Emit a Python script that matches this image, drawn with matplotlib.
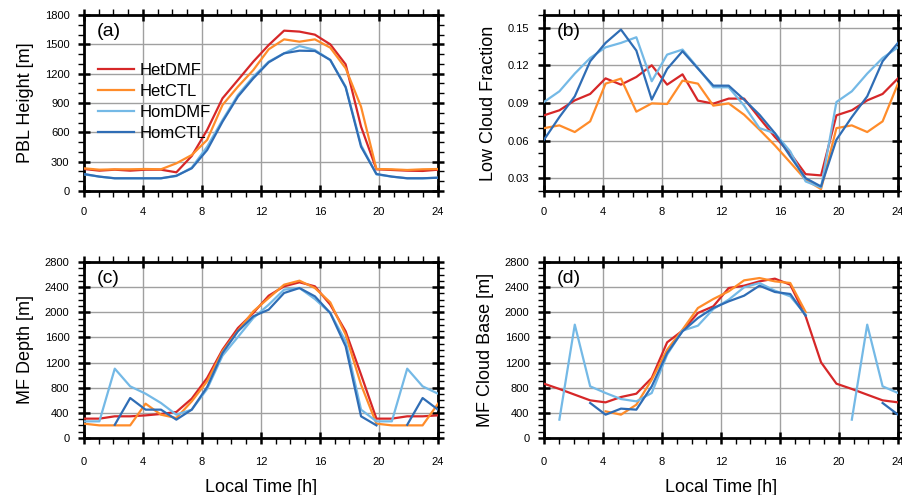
import numpy as np
import matplotlib
matplotlib.use("Agg")
import matplotlib.pyplot as plt
from matplotlib.ticker import MultipleLocator

plt.rcParams['font.family'] = ['Liberation Sans', 'DejaVu Sans']

nan = np.nan
hours = np.linspace(0, 24, 24)
series = ["HetDMF", "HetCTL", "HomDMF", "HomCTL"]
colors = {"HetDMF": "#d62728", "HetCTL": "#ff8c2a", "HomDMF": "#74b9e6", "HomCTL": "#2f6db5"}

pbl_hetdmf = [225, 208, 218, 208, 218, 218, 191, 358, 624, 948, 1135, 1323, 1493, 1640, 1630, 1599, 1500, 1295, 658, 222, 215, 208, 205, 218]
pbl_hetctl = [232, 218, 222, 222, 225, 222, 283, 368, 522, 880, 1067, 1237, 1449, 1551, 1527, 1551, 1466, 1255, 862, 225, 222, 215, 222, 225]
pbl_homdmf = [170, 147, 130, 130, 130, 130, 153, 239, 453, 726, 982, 1169, 1323, 1408, 1483, 1442, 1340, 1067, 470, 170, 147, 130, 130, 136]
pbl_homctl = [174, 147, 130, 130, 130, 130, 156, 232, 419, 709, 965, 1152, 1316, 1408, 1435, 1432, 1340, 1060, 453, 174, 147, 130, 130, 136]

lcf_hetdmf = [0.0802, 0.0842, 0.0921, 0.0972, 0.1096, 0.1046, 0.1107, 0.1200, 0.1046, 0.1128, 0.0919, 0.0895, 0.0935, 0.0935, 0.0780, 0.0630, 0.0500, 0.0334, 0.0324, 0.0802, 0.0842, 0.0921, 0.0972, 0.1096]
lcf_hetctl = [0.0700, 0.0722, 0.0669, 0.0754, 0.1054, 0.1094, 0.0831, 0.0897, 0.0892, 0.1078, 0.1054, 0.0879, 0.0897, 0.0807, 0.0688, 0.0563, 0.0427, 0.0289, 0.0215, 0.0700, 0.0722, 0.0669, 0.0754, 0.1054]
lcf_homdmf = [0.0908, 0.0993, 0.1134, 0.1258, 0.1343, 0.1378, 0.1423, 0.1073, 0.1285, 0.1325, 0.1179, 0.1025, 0.1025, 0.0879, 0.0700, 0.0660, 0.0515, 0.0276, 0.0228, 0.0908, 0.0993, 0.1134, 0.1258, 0.1343]
lcf_homctl = [0.0608, 0.0788, 0.0953, 0.1232, 0.1378, 0.1484, 0.1317, 0.0927, 0.1171, 0.1312, 0.1174, 0.1038, 0.1038, 0.0927, 0.0807, 0.0660, 0.0475, 0.0302, 0.0236, 0.0608, 0.0788, 0.0953, 0.1232, 0.1378]

mfd_hetdmf = [308, 308, 345, 345, 360, 382, 414, 626, 955, 1405, 1750, 1989, 2264, 2413, 2477, 2413, 2121, 1697, 1008, 308, 308, 345, 345, 360]
mfd_hetctl = [228, 201, 201, 201, 546, 371, 318, 583, 902, 1379, 1708, 2015, 2227, 2439, 2503, 2386, 2158, 1644, 848, 228, 201, 201, 201, 546]
mfd_homdmf = [265, 265, 1103, 822, 705, 557, 371, 451, 780, 1310, 1607, 1909, 2121, 2360, 2386, 2211, 1989, 1538, 451, 265, 265, 1103, 822, 705]
mfd_homctl = [nan, nan, 210, 636, 451, 451, 292, 451, 811, 1352, 1697, 1936, 2042, 2307, 2386, 2254, 1989, 1458, 345, 201, nan, 210, 636, 451]

mfb_hetdmf = [864, 780, 689, 599, 567, 652, 705, 955, 1522, 1708, 1989, 2095, 2386, 2423, 2492, 2535, 2439, 1936, 1204, 864, 780, 689, 599, 567]
mfb_hetctl = [nan, nan, nan, nan, 424, 371, 530, 928, 1405, 1724, 2068, 2211, 2333, 2508, 2545, 2492, 2466, 2004, nan, nan, nan, nan, nan, nan]
mfb_homdmf = [nan, 292, 1803, 822, 716, 620, 583, 716, 1326, 1708, 1787, 2052, 2201, 2397, 2466, 2344, 2254, 1962, nan, nan, 292, 1803, 822, 716]
mfb_homctl = [nan, nan, nan, 557, 371, 467, 451, 822, 1352, 1697, 1909, 2068, 2174, 2264, 2423, 2323, 2291, 1946, nan, nan, nan, nan, 557, 371]

panels = [
    ("(a)", "PBL Height [m]", [pbl_hetdmf, pbl_hetctl, pbl_homdmf, pbl_homctl], (0, 1800), 300, 100, "%d"),
    ("(b)", "Low Cloud Fraction", [lcf_hetdmf, lcf_hetctl, lcf_homdmf, lcf_homctl], (0.02, 0.16), 0.03, 0.01, "%.2f"),
    ("(c)", "MF Depth [m]", [mfd_hetdmf, mfd_hetctl, mfd_homdmf, mfd_homctl], (0, 2800), 400, 100, "%d"),
    ("(d)", "MF Cloud Base [m]", [mfb_hetdmf, mfb_hetctl, mfb_homdmf, mfb_homctl], (0, 2800), 400, 100, "%d"),
]

W, H = 903, 495
fig = plt.figure(figsize=(W / 100, H / 100), dpi=100)
boxes = [(84, 15), (544, 15), (84, 262), (544, 262)]
aw, ah = 354, 176

for (label, ylab, data, ylim, major, minor, fmt), (x0, y0) in zip(panels, boxes):
    ax = fig.add_axes([x0 / W, 1 - (y0 + ah) / H, aw / W, ah / H])
    for name, vals in zip(series, data):
        ax.plot(hours, vals, color=colors[name], lw=1.6, label=name, zorder=3)
    ax.set_xlim(0, 24)
    ax.set_ylim(*ylim)
    ax.xaxis.set_major_locator(MultipleLocator(4))
    ax.xaxis.set_minor_locator(MultipleLocator(1))
    if label == "(b)":
        ax.set_yticks([0.03, 0.06, 0.09, 0.12, 0.15])
    else:
        ax.yaxis.set_major_locator(MultipleLocator(major))
    ax.yaxis.set_minor_locator(MultipleLocator(minor))
    ax.yaxis.set_major_formatter(matplotlib.ticker.FormatStrFormatter(fmt))
    ax.grid(True, which='major', color='#a0a0a0', lw=1.0, zorder=0)
    for s in ax.spines.values():
        s.set_linewidth(2.0)
    bottom_row = label in ("(c)", "(d)")
    ax.tick_params(which='major', direction='inout', length=9, width=1.8,
                   top=True, right=True, labelsize=8, pad=6)
    ax.tick_params(axis='x', which='major', pad=9 if bottom_row else 7)
    ax.tick_params(which='minor', direction='out', length=4, width=1.0,
                   top=True, right=True)
    ax.set_ylabel(ylab, fontsize=13, labelpad=8)
    ax.text(0.035, 0.955, label, transform=ax.transAxes, fontsize=14, va='top', ha='left')
    if bottom_row:
        ax.set_xlabel("Local Time [h]", fontsize=13, labelpad=9)
    if label == "(a)":
        ax.legend(loc='upper left', bbox_to_anchor=(0.02, 0.765), frameon=False,
                  fontsize=12, handlelength=2.2, handletextpad=0.3, labelspacing=0.36,
                  borderaxespad=0.0)

fig.savefig("out.png", dpi=100)
